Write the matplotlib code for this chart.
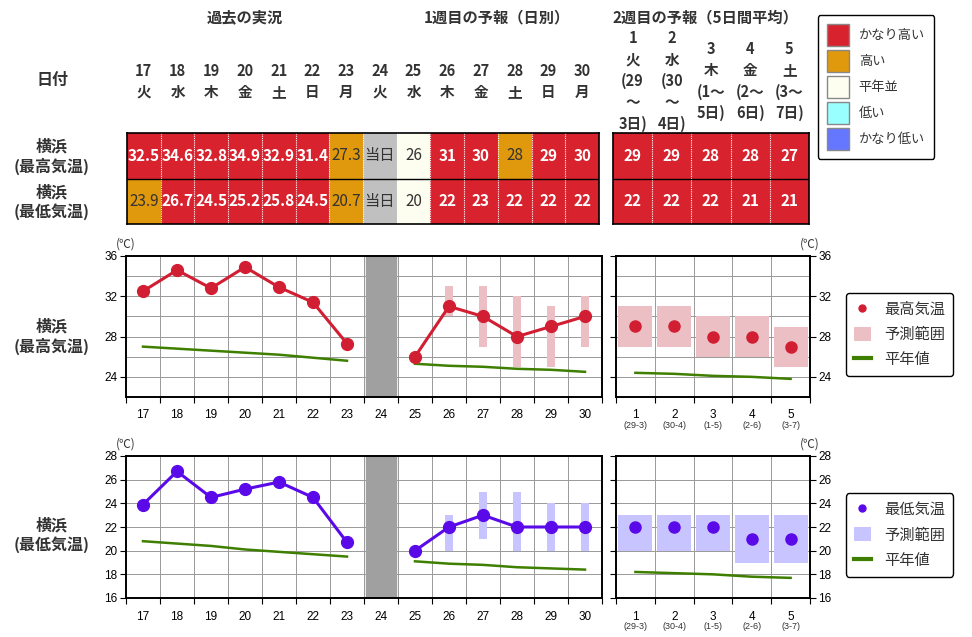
import matplotlib
matplotlib.use("Agg")
import matplotlib.pyplot as plt
from matplotlib.patches import Rectangle, Patch
from matplotlib.lines import Line2D
import numpy as np

plt.rcParams['font.family'] = ['Noto Sans CJK JP', 'DejaVu Sans']

W, H = 972, 637

# ---- データ ----
days = list(range(17, 31))
weekdays = ['火', '水', '木', '金', '土', '日', '月', '火', '水', '木', '金', '土', '日', '月']
week2 = [1, 2, 3, 4, 5]
week2_heads = ['1\n火\n(29\n～\n3日)', '2\n水\n(30\n～\n4日)', '3\n木\n(1～\n5日)',
               '4\n金\n(2～\n6日)', '5\n土\n(3～\n7日)']
week2_subs = ['(29-3)', '(30-4)', '(1-5)', '(2-6)', '(3-7)']

tbl_max_txt = ['32.5', '34.6', '32.8', '34.9', '32.9', '31.4', '27.3', '当日',
               '26', '31', '30', '28', '29', '30']
tbl_max_cls = ['vh', 'vh', 'vh', 'vh', 'vh', 'vh', 'h', 'today',
               'n', 'vh', 'vh', 'h', 'vh', 'vh']
tbl_min_txt = ['23.9', '26.7', '24.5', '25.2', '25.8', '24.5', '20.7', '当日',
               '20', '22', '23', '22', '22', '22']
tbl_min_cls = ['h', 'vh', 'vh', 'vh', 'vh', 'vh', 'h', 'today',
               'n', 'vh', 'vh', 'vh', 'vh', 'vh']
w2_max_txt = ['29', '29', '28', '28', '27']
w2_min_txt = ['22', '22', '22', '21', '21']
w2_max_cls = ['vh', 'vh', 'vh', 'vh', 'vh']
w2_min_cls = ['vh', 'vh', 'vh', 'vh', 'vh']

obs_days = [17, 18, 19, 20, 21, 22, 23]
obs_max = [32.5, 34.6, 32.8, 34.9, 32.9, 31.4, 27.3]
obs_min = [23.9, 26.7, 24.5, 25.2, 25.8, 24.5, 20.7]
fc_days = [25, 26, 27, 28, 29, 30]
fc_max = [26, 31, 30, 28, 29, 30]
fc_min = [20, 22, 23, 22, 22, 22]
rng_days = [26, 27, 28, 29, 30]
rng_max_lo = [30, 27, 25, 25, 27]
rng_max_hi = [33, 33, 32, 31, 32]
rng_min_lo = [20, 21, 20, 20, 20]
rng_min_hi = [23, 25, 25, 24, 24]
norm_max_obs = [27.0, 26.8, 26.6, 26.4, 26.2, 25.9, 25.6]
norm_max_fc = [25.3, 25.1, 25.0, 24.8, 24.7, 24.5]
norm_min_obs = [20.8, 20.6, 20.4, 20.1, 19.9, 19.7, 19.5]
norm_min_fc = [19.1, 18.9, 18.8, 18.6, 18.5, 18.4]

w2_max = [29, 29, 28, 28, 27]
w2_max_lo = [27, 27, 26, 26, 25]
w2_max_hi = [31, 31, 30, 30, 29]
w2_min = [22, 22, 22, 21, 21]
w2_min_lo = [20, 20, 20, 19, 19]
w2_min_hi = [23, 23, 23, 23, 23]
w2_norm_max = [24.4, 24.3, 24.1, 24.0, 23.8]
w2_norm_min = [18.2, 18.1, 18.0, 17.8, 17.7]

cls_names = ['かなり高い', '高い', '平年並', '低い', 'かなり低い']
cls_colors = ['#d8232f', '#e0980c', '#fdfdf0', '#99ffff', '#6677ff']
cell_colors = {'vh': '#d8232f', 'h': '#e0980c', 'n': '#fdfdf0', 'today': '#c0c0c0'}

RED = '#d21e32'
PINK = '#ebbfc3'
PURPLE = '#5a0ae8'
LAVENDER = '#c8c4ff'
GREEN = '#3f7f00'
TXT = '#333333'


def box(x0, y0, x1, y1):
    return [x0 / W, 1 - y1 / H, (x1 - x0) / W, (y1 - y0) / H]


def draw_table(ax, xs, rows_txt, rows_cls, heads):
    for r, (txts, clss) in enumerate(zip(rows_txt, rows_cls)):
        for x, t, c in zip(xs, txts, clss):
            ax.add_patch(Rectangle((x - 0.5, r), 1, 1, facecolor=cell_colors[c], edgecolor='none'))
            if c == 'vh':
                ax.text(x, r + 0.5, t, ha='center', va='center', color='white',
                        fontsize=11, fontweight='bold')
            else:
                ax.text(x, r + 0.5, t, ha='center', va='center', color=TXT, fontsize=11)
    ax.vlines(np.array(xs[:-1]) + 0.5, 0, 2, colors='white', lw=0.8, linestyles=(0, (1, 1)))
    ax.axhline(1, color='black', lw=1)
    ax.set_xlim(xs[0] - 0.5, xs[-1] + 0.5)
    ax.set_ylim(2, 0)
    ax.set_xticks([])
    ax.set_yticks([])
    for s in ax.spines.values():
        s.set_linewidth(1.2)
    trans = ax.get_xaxis_transform()
    for x, h in zip(xs, heads):
        ax.text(x, 1.57, h, transform=trans, ha='center', va='center', fontsize=10.5,
                fontweight='bold', color=TXT, linespacing=1.4, clip_on=False)


def style_chart(ax, xmin, xmax, ylo, yhi, ystep, ylab_step, right=False):
    ax.set_xlim(xmin, xmax)
    ax.set_ylim(ylo, yhi)
    bounds = np.arange(xmin, xmax + 0.01, 1.0)
    ax.set_xticks(bounds)
    ax.set_xticklabels([])
    ax.set_xticks(np.arange(xmin + 0.5, xmax, 1.0), minor=True)
    ax.tick_params(axis='x', which='major', length=4, width=0.8, direction='out')
    ax.tick_params(axis='x', which='minor', length=0, pad=9, labelsize=8.5)
    ax.set_yticks(np.arange(ylo + (ylab_step - (ylo % ylab_step)) % ylab_step, yhi + 0.01, ylab_step))
    ax.tick_params(axis='y', length=4, width=0.8, direction='out', labelsize=8.5, pad=2)
    if right:
        ax.tick_params(axis='y', left=True, right=True, labelleft=False, labelright=True)
    for lab in ax.get_yticklabels():
        lab.set_family('Liberation Sans')
    for yv in np.arange(ylo, yhi, ystep)[1:]:
        ax.axhline(yv, color='#999999', lw=0.7, zorder=0)
    for xv in bounds[1:-1]:
        ax.axvline(xv, color='#999999', lw=0.7, zorder=0)
    for s in ax.spines.values():
        s.set_linewidth(1.4)


fig = plt.figure(figsize=(W / 100, H / 100), dpi=100)

# ---- 見出し ----
fig.text(245 / W, 1 - 17 / H, '過去の実況', ha='center', va='center', fontsize=11,
         fontweight='bold', color=TXT)
fig.text(497 / W, 1 - 17 / H, '1週目の予報（日別）', ha='center', va='center', fontsize=11,
         fontweight='bold', color=TXT)
fig.text(705 / W, 1 - 17 / H, '2週目の予報（5日間平均）', ha='center', va='center', fontsize=11,
         fontweight='bold', color=TXT)
fig.text(52 / W, 1 - 80 / H, '日付', ha='center', va='center', fontsize=11.5,
         fontweight='bold', color=TXT)
for yc, s in [(157, '横浜\n(最高気温)'), (202, '横浜\n(最低気温)'),
              (337, '横浜\n(最高気温)'), (535, '横浜\n(最低気温)')]:
    fig.text(52 / W, 1 - yc / H, s, ha='center', va='center', fontsize=11.5,
             fontweight='bold', color=TXT, linespacing=1.22)

# ---- 表 ----
t1 = fig.add_axes(box(127, 133, 599, 224))
draw_table(t1, days, [tbl_max_txt, tbl_min_txt], [tbl_max_cls, tbl_min_cls],
           [f'{d}\n{w}' for d, w in zip(days, weekdays)])
t2 = fig.add_axes(box(613, 133, 809, 224))
draw_table(t2, week2, [w2_max_txt, w2_min_txt], [w2_max_cls, w2_min_cls], week2_heads)

leg_handles = [Patch(facecolor=c, edgecolor='#888888', lw=1) for c in cls_colors]
lg = fig.legend(leg_handles, cls_names, loc='center', bbox_to_anchor=(876 / W, 1 - 87 / H),
                handlelength=1.65, handleheight=2.18, handletextpad=0.75, labelspacing=0.3,
                fontsize=9.5, frameon=True, fancybox=True, edgecolor='black',
                framealpha=1, borderpad=0.7)
lg.get_frame().set_linewidth(1.0)
for t in lg.get_texts():
    t.set_color(TXT)


def draw_pair(y0, y1, ylo, yhi, ylab_step, obs, fc, rlo, rhi, nobs, nfc,
              w2v, w2lo, w2hi, w2n, color, rcolor, label):
    a = fig.add_axes(box(126, y0, 602, y1))
    style_chart(a, 16.5, 30.5, ylo, yhi, 2, ylab_step)
    a.set_xticklabels([str(d) for d in days], minor=True)
    for lab in a.get_xticklabels(minor=True):
        lab.set_family('Liberation Sans')
    a.axvspan(23.55, 24.45, color='#a0a0a0', zorder=1)
    a.bar(rng_days, np.array(rhi) - np.array(rlo), bottom=rlo, width=0.26,
          color=rcolor, zorder=2)
    a.plot(obs_days, nobs, color=GREEN, lw=1.8, zorder=3)
    a.plot(fc_days, nfc, color=GREEN, lw=1.8, zorder=3)
    a.plot(obs_days, obs, color=color, lw=2.2, marker='o', ms=8.5, zorder=4)
    a.plot(fc_days, fc, color=color, lw=2.2, marker='o', ms=8.5, zorder=4)
    a.text(0, 1.04, '(℃)', transform=a.transAxes, ha='center', va='bottom', fontsize=8.5,
           color=TXT)

    b = fig.add_axes(box(616, y0, 810, y1))
    style_chart(b, 0.5, 5.5, ylo, yhi, 2, ylab_step, right=True)
    b.set_xticklabels([str(d) for d in week2], minor=True)
    for lab in b.get_xticklabels(minor=True):
        lab.set_family('Liberation Sans')
    b.bar(week2, np.array(w2hi) - np.array(w2lo), bottom=w2lo, width=0.88,
          color=rcolor, zorder=2)
    b.plot(week2, w2n, color=GREEN, lw=1.8, zorder=3)
    b.plot(week2, w2v, color=color, lw=0, marker='o', ms=8, zorder=4)
    for x, s in zip(week2, week2_subs):
        b.text(x, -0.2, s, transform=b.get_xaxis_transform(), ha='center', va='center',
               fontsize=6.5, family='Liberation Sans', color=TXT)
    b.text(1.0, 1.04, '(℃)', transform=b.transAxes, ha='center', va='bottom', fontsize=8.5,
           color=TXT)

    handles = [Line2D([], [], color=color, marker='o', lw=0, ms=5),
               Patch(facecolor=rcolor, edgecolor='none'),
               Line2D([], [], color=GREEN, lw=3)]
    cy = (y0 + y1) / 2 + 8
    lgd = fig.legend(handles, [label, '予測範囲', '平年値'], loc='center',
                     bbox_to_anchor=(899.5 / W, 1 - cy / H), fontsize=11,
                     handlelength=1.1, handleheight=1.0, handletextpad=0.9,
                     labelspacing=0.55, frameon=True, fancybox=True, edgecolor='black',
                     framealpha=1, borderpad=0.5)
    lgd.get_frame().set_linewidth(1.0)
    for t in lgd.get_texts():
        t.set_color(TXT)


draw_pair(256, 397, 22, 36, 4, obs_max, fc_max, rng_max_lo, rng_max_hi,
          norm_max_obs, norm_max_fc, w2_max, w2_max_lo, w2_max_hi, w2_norm_max,
          RED, PINK, '最高気温')
draw_pair(456, 598, 16, 28, 2, obs_min, fc_min, rng_min_lo, rng_min_hi,
          norm_min_obs, norm_min_fc, w2_min, w2_min_lo, w2_min_hi, w2_norm_min,
          PURPLE, LAVENDER, '最低気温')

fig.savefig('out.png', dpi=100)
